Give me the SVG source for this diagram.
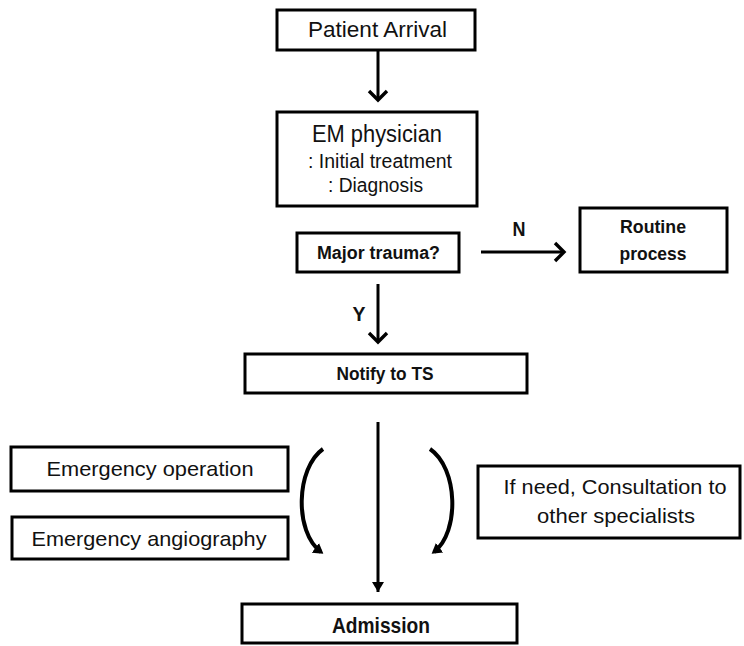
<svg xmlns="http://www.w3.org/2000/svg" width="744" height="646" viewBox="0 0 744 646">
<style>
.box{fill:#fff;stroke:#000;stroke-width:3}
.t{font-family:"Liberation Sans",Arial,sans-serif;fill:#111;text-anchor:middle}
.b{font-weight:bold}
.ln{fill:none;stroke:#000;stroke-width:3}
.cv{fill:none;stroke:#000;stroke-width:4}
</style>
<defs>
<marker id="chev" markerUnits="userSpaceOnUse" markerWidth="24" markerHeight="24" refX="12" refY="12" orient="auto" viewBox="0 0 24 24">
<path d="M3 3 L12 12 L3 21" fill="none" stroke="#000" stroke-width="3.4"/>
</marker>
<marker id="tri" markerUnits="userSpaceOnUse" markerWidth="16" markerHeight="16" refX="12" refY="8" orient="auto" viewBox="0 0 16 16">
<path d="M2 2 L12 8 L2 14 Z" fill="#000"/>
</marker>
<marker id="cvh" markerUnits="userSpaceOnUse" markerWidth="14" markerHeight="14" refX="7" refY="7" orient="auto" viewBox="0 0 14 14">
<path d="M0 1 L10 7 L0 13 Z" fill="#000"/>
</marker>
</defs>

<g id="connectors">
<line class="ln" x1="378" y1="50" x2="378" y2="100" marker-end="url(#chev)"/>
<line class="ln" x1="481" y1="252" x2="564" y2="252" marker-end="url(#chev)"/>
<line class="ln" x1="378" y1="284" x2="378" y2="342" marker-end="url(#chev)"/>
<line class="ln" x1="378" y1="422" x2="378" y2="592" marker-end="url(#tri)"/>
<path class="cv" d="M323 449 C296 468 294 532 321 552" marker-end="url(#cvh)"/>
<path class="cv" d="M430 449 C458 468 460 532 434 552" marker-end="url(#cvh)"/>
<text class="t b" x="519" y="236" font-size="20" textLength="13" lengthAdjust="spacingAndGlyphs">N</text>
<text class="t b" x="359" y="321" font-size="20" textLength="13" lengthAdjust="spacingAndGlyphs">Y</text>
</g>

<g id="patient-arrival">
<rect class="box" x="277" y="10" width="198" height="40"/>
<text class="t" x="377.5" y="37" font-size="22" textLength="139" lengthAdjust="spacingAndGlyphs">Patient Arrival</text>
</g>

<g id="em-physician">
<rect class="box" x="277" y="112" width="200" height="94"/>
<text class="t" x="377" y="142" font-size="23" textLength="130" lengthAdjust="spacingAndGlyphs">EM physician</text>
<text class="t" x="380" y="168" font-size="20" textLength="144" lengthAdjust="spacingAndGlyphs">: Initial treatment</text>
<text class="t" x="375.5" y="192" font-size="20" textLength="95" lengthAdjust="spacingAndGlyphs">: Diagnosis</text>
</g>

<g id="major-trauma">
<rect class="box" x="297" y="233" width="162" height="39"/>
<text class="t b" x="378.5" y="259" font-size="18" textLength="123" lengthAdjust="spacingAndGlyphs">Major trauma?</text>
</g>

<g id="routine-process">
<rect class="box" x="580" y="208" width="147" height="64"/>
<text class="t b" x="653" y="233" font-size="19" textLength="66" lengthAdjust="spacingAndGlyphs">Routine</text>
<text class="t b" x="653" y="260" font-size="19" textLength="67" lengthAdjust="spacingAndGlyphs">process</text>
</g>

<g id="notify-ts">
<rect class="box" x="245" y="354" width="282" height="39"/>
<text class="t b" x="385" y="380" font-size="18" textLength="97" lengthAdjust="spacingAndGlyphs">Notify to TS</text>
</g>

<g id="emergency-operation">
<rect class="box" x="11" y="447" width="277" height="44"/>
<text class="t" x="150" y="476" font-size="21" textLength="207" lengthAdjust="spacingAndGlyphs">Emergency operation</text>
</g>

<g id="emergency-angiography">
<rect class="box" x="12" y="517" width="276" height="42"/>
<text class="t" x="149" y="546" font-size="21" textLength="235" lengthAdjust="spacingAndGlyphs">Emergency angiography</text>
</g>

<g id="consultation">
<rect class="box" x="478" y="466" width="262" height="72"/>
<text class="t" x="615" y="494" font-size="21" textLength="223" lengthAdjust="spacingAndGlyphs">If need, Consultation to</text>
<text class="t" x="616" y="523" font-size="21" textLength="158" lengthAdjust="spacingAndGlyphs">other specialists</text>
</g>

<g id="admission">
<rect class="box" x="242" y="604" width="275" height="39"/>
<text class="t b" x="381" y="633" font-size="22" textLength="98" lengthAdjust="spacingAndGlyphs">Admission</text>
</g>
</svg>
